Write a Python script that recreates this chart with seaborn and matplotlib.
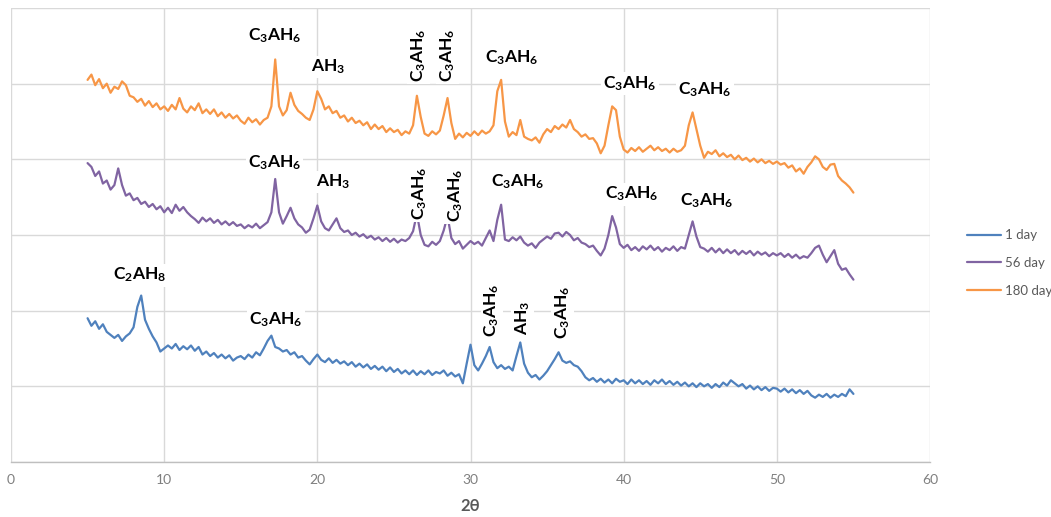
import numpy as np
import pandas as pd
import matplotlib
matplotlib.use("Agg")
import matplotlib.pyplot as plt
import seaborn as sns

# ---- data ----
two_theta = np.linspace(5, 55, 201)  # 0.25 degree sampling grid

day1 = [
    190, 180, 186, 176,  182, 172, 168, 164,  168, 160, 166, 170,   # 5,6,7
    178, 205, 220, 188,  176, 166, 158, 146,                       # 8,9
    150, 154, 150, 156,  148, 153, 149, 154,  147, 152, 142, 146,   # 10,11,12
    140, 144, 138, 142,  137, 141, 134, 138,  140, 136, 142, 138,   # 13,14,15
    145, 141, 150, 160,  167, 152, 150, 146,  148, 142, 145, 138,   # 16,17,18
    140, 134, 129, 136,  142, 135, 132, 137,  131, 135, 130, 133,   # 19,20,21
    128, 132, 126, 130,  125, 129, 123, 127,  122, 126, 120, 125,   # 22,23,24
    119, 123, 117, 121,  116, 121, 115, 120,  116, 121, 115, 119,   # 25,26,27
    117, 121, 114, 118,  113, 116, 104, 130,  155, 128, 121, 130,   # 28,29,30
    140, 152, 132, 124,  128, 123, 126, 121,  140, 158, 130, 118,   # 31,32,33
    112, 115, 109, 114,  120, 128, 136, 145,  134, 131, 133, 128,   # 34,35,36
    126, 120, 112, 108,  111, 106, 110, 105,  109, 104, 110, 106,   # 37,38,39
    108, 103, 109, 104,  108, 103, 107, 102,  108, 104, 109, 103,   # 40,41,42
    107, 102, 106, 101,  105, 100, 104, 99,   104, 100, 103, 98,    # 43,44,45
    103, 99, 105, 101,   108, 104, 100, 103,  97, 101, 96, 100,     # 46,47,48
    95, 99, 94, 98,      97, 93, 97, 92,      96, 91, 95, 90,       # 49,50,51
    94, 88, 85, 89,      86, 90, 85, 89,      86, 90, 87, 96,       # 52,53,54
    90,                                                            # 55
]

day56 = [
    395, 390, 378, 384,  368, 372, 360, 366,  388, 366, 352, 355,   # 5,6,7
    346, 349, 341, 344,  337, 341, 334, 338,                       # 8,9
    330, 336, 329, 340,  332, 337, 330, 325,  321, 316, 323, 318,   # 10,11,12
    322, 316, 320, 314,  318, 313, 317, 312,  314, 309, 313, 310,   # 13,14,15
    315, 309, 313, 317,  330, 374, 330, 315,  325, 336, 322, 314,   # 16,17,18
    310, 303, 307, 322,  339, 318, 309, 306,  314, 322, 309, 304,   # 19,20,21
    306, 300, 303, 298,  301, 296, 299, 294,  297, 292, 296, 291,   # 22,23,24
    295, 290, 294, 292,  296, 305, 328, 300,  287, 285, 291, 287,   # 25,26,27
    292, 306, 325, 296,  288, 292, 282, 287,  292, 288, 291, 286,   # 28,29,30
    296, 306, 292, 320,  340, 294, 292, 297,  293, 298, 290, 286,   # 31,32,33
    289, 283, 290, 294,  298, 295, 302, 303,  298, 304, 300, 293,   # 34,35,36
    296, 290, 288, 284,  286, 279, 273, 282,  300, 325, 310, 288,   # 37,38,39
    283, 287, 280, 284,  279, 285, 281, 286,  280, 284, 278, 283,   # 40,41,42
    280, 285, 279, 284,  282, 300, 318, 298,  284, 282, 278, 283,   # 43,44,45
    277, 282, 276, 281,  276, 280, 274, 279,  275, 279, 273, 278,   # 46,47,48
    274, 277, 272, 276,  273, 276, 271, 275,  270, 274, 269, 272,   # 49,50,51
    270, 276, 283, 286,  274, 264, 272, 280,  262, 254, 256, 248,   # 52,53,54
    241,                                                           # 55
]

day180 = [
    505, 512, 498, 506,  494, 500, 488, 496,  493, 503, 498, 484,   # 5,6,7
    482, 476, 480, 471,  477, 469, 474, 466,                       # 8,9
    470, 464, 472, 466,  481, 467, 462, 470,  465, 474, 461, 466,   # 10,11,12
    460, 466, 457, 462,  455, 460, 454, 458,  451, 447, 455, 449,   # 13,14,15
    453, 446, 452, 455,  470, 532, 470, 458,  465, 488, 472, 464,   # 16,17,18
    460, 455, 452, 466,  490, 480, 466, 470,  461, 464, 455, 458,   # 19,20,21
    450, 455, 448, 451,  445, 449, 440, 446,  440, 444, 436, 441,   # 22,23,24
    436, 439, 432, 437,  434, 445, 484, 456,  434, 431, 437, 433,   # 25,26,27
    438, 458, 481, 448,  427, 434, 429, 435,  431, 437, 432, 438,   # 28,29,30
    434, 437, 445, 490,  505, 450, 430, 436,  432, 452, 430, 427,   # 31,32,33
    425, 429, 422, 433,  440, 436, 444, 440,  446, 442, 452, 440,   # 34,35,36
    436, 430, 433, 427,  428, 421, 408, 418,  445, 470, 465, 430,   # 37,38,39
    413, 409, 415, 411,  416, 410, 414, 418,  412, 416, 411, 414,   # 40,41,42
    409, 414, 410, 412,  418, 445, 462, 440,  418, 402, 410, 407,   # 43,44,45
    412, 404, 408, 403,  406, 400, 405, 399,  402, 397, 401, 396,   # 46,47,48
    400, 395, 398, 394,  397, 393, 395, 389,  392, 384, 388, 381,   # 49,50,51
    390, 396, 404, 400,  390, 386, 393, 394,  378, 372, 368, 363,   # 52,53,54
    356,                                                           # 55
]

series_names = ["1 day", "56 day", "180 day"]
series_colors = ["#4F81BD", "#8064A2", "#F79646"]

x_ticks = [0, 10, 20, 30, 40, 50, 60]

# annotations: (text, x, y, rotation)
labels_180 = [("C$_3$AH$_6$", 17.2, 564, 0), ("AH$_3$", 20.7, 522, 0),
              ("C$_3$AH$_6$", 26.6, 538, 90), ("C$_3$AH$_6$", 28.5, 538, 90),
              ("C$_3$AH$_6$", 32.7, 534, 0), ("C$_3$AH$_6$", 40.4, 500, 0),
              ("C$_3$AH$_6$", 45.3, 492, 0)]
labels_56 = [("C$_3$AH$_6$", 17.2, 396, 0), ("AH$_3$", 21.0, 370, 0),
             ("C$_3$AH$_6$", 26.7, 355, 90), ("C$_3$AH$_6$", 29.0, 352, 90),
             ("C$_3$AH$_6$", 33.1, 370, 0), ("C$_3$AH$_6$", 40.5, 354, 0),
             ("C$_3$AH$_6$", 45.4, 346, 0)]
labels_1 = [("C$_2$AH$_8$", 8.4, 247, 0), ("C$_3$AH$_6$", 17.3, 188, 0),
            ("C$_3$AH$_6$", 31.4, 201, 90), ("AH$_3$", 33.4, 190, 90),
            ("C$_3$AH$_6$", 36.0, 198, 90)]

# ---- build frame ----
df = pd.concat([
    pd.DataFrame({"two_theta": two_theta, "intensity": day1, "sample": "1 day"}),
    pd.DataFrame({"two_theta": two_theta, "intensity": day56, "sample": "56 day"}),
    pd.DataFrame({"two_theta": two_theta, "intensity": day180, "sample": "180 day"}),
], ignore_index=True)

sns.set_theme(style="white")
plt.rcParams["font.family"] = ["Lato", "DejaVu Sans"]
plt.rcParams["mathtext.fontset"] = "custom"
plt.rcParams["mathtext.rm"] = "Lato:bold"
plt.rcParams["mathtext.bf"] = "Lato:bold"
plt.rcParams["mathtext.it"] = "Lato:bold"
plt.rcParams["mathtext.default"] = "bf"

fig = plt.figure(figsize=(10.51, 5.17), dpi=100)
ax = fig.add_axes([11 / 1051, 1 - 462 / 517, (930 - 11) / 1051, (462 - 8) / 517])

sns.lineplot(data=df, x="two_theta", y="intensity", hue="sample",
             hue_order=series_names, palette=series_colors,
             estimator=None, sort=False, linewidth=1.6, ax=ax)

ax.set_xlim(0, 60)
ax.set_ylim(0, 600)
ax.set_xticks(x_ticks)
ax.set_yticks(np.arange(0, 601, 100))
ax.set_yticklabels([])
ax.tick_params(axis="y", length=0)
ax.tick_params(axis="x", length=0, labelsize=10, colors="#7f7f7f", pad=9)
ax.grid(True, color="#d9d9d9", linewidth=1.0)
ax.set_axisbelow(True)
for s in ["left", "right", "top"]:
    ax.spines[s].set_visible(False)
ax.spines["bottom"].set_color("#bfbfbf")
ax.spines["bottom"].set_linewidth(1.0)
ax.set_ylabel("")
ax.set_xlabel("2θ", fontsize=12, color="#595959", fontweight="bold", labelpad=8)

for group in (labels_180, labels_56, labels_1):
    for txt, xx, yy, rot in group:
        ax.text(xx, yy, txt, ha="center", va="center", rotation=rot,
                fontsize=12.5, fontweight="bold", color="black",
                bbox=dict(facecolor="white", edgecolor="none", pad=1.5))

leg = ax.legend(loc="center left", bbox_to_anchor=(955 / 1051, 1 - 263 / 517),
                bbox_transform=fig.transFigure, frameon=False, fontsize=9.5,
                handlelength=2.6, handletextpad=0.3, labelspacing=1.2)
for t in leg.get_texts():
    t.set_color("#595959")

fig.savefig("out.png", dpi=100)
